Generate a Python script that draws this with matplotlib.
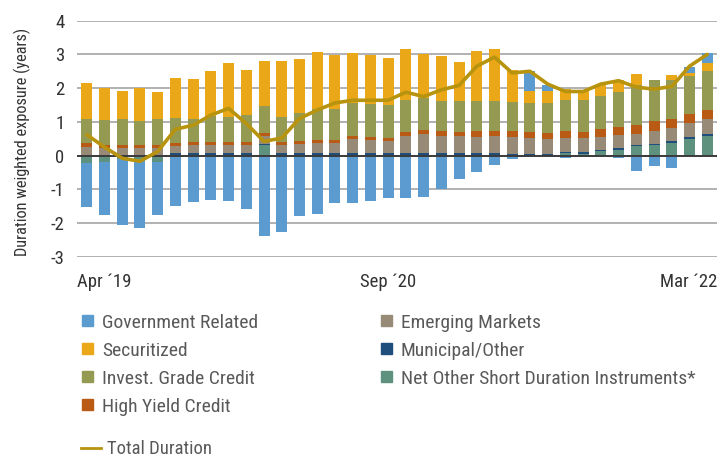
import matplotlib
matplotlib.use("Agg")
import matplotlib.pyplot as plt
from matplotlib import font_manager
from matplotlib.patches import Rectangle
from matplotlib.lines import Line2D
import matplotlib.transforms as mtransforms
import numpy as np

names = {f.name for f in font_manager.fontManager.ttflist}
FONT = "Liberation Sans"
for cand in ["Roboto Condensed", "Barlow Semi Condensed", "Asap Condensed", "Archivo Narrow",
             "Liberation Sans Narrow"]:
    if cand in names:
        FONT = cand
        break
plt.rcParams["font.family"] = [FONT, "DejaVu Sans"]

months = list(range(36))  # Apr '19 .. Mar '22
tick_idx = [0, 17, 35]
tick_labels = ["Apr \u00b419", "Sep \u00b420", "Mar \u00b422"]

gov = [-1.30, -1.56, -1.96, -2.04, -1.56, -1.50, -1.38, -1.31, -1.35, -1.60, -2.39, -2.27,
       -1.79, -1.73, -1.41, -1.41, -1.35, -1.26, -1.27, -1.23, -1.00, -0.71, -0.48, -0.27,
       -0.10, 0.59, 0.16, -0.07, -0.04, 0.00, -0.07, -0.46, -0.31, -0.37, 0.18, 0.27]
sec = [1.07, 0.93, 0.83, 0.96, 0.82, 1.17, 1.19, 1.34, 1.60, 1.35, 1.35, 1.66,
       1.60, 1.69, 1.58, 1.49, 1.46, 1.41, 1.50, 1.30, 1.32, 1.16, 1.47, 1.55,
       0.94, 0.36, 0.36, 0.31, 0.27, 0.30, 0.36, 0.35, 0.02, 0.17, 0.11, 0.24]
ig = [0.73, 0.74, 0.77, 0.71, 0.75, 0.74, 0.69, 0.77, 0.74, 0.79, 0.79, 0.75,
      0.83, 0.92, 0.92, 0.98, 0.98, 0.97, 0.94, 0.95, 0.89, 0.92, 0.89, 0.89,
      0.87, 0.87, 0.89, 0.92, 0.95, 0.99, 1.04, 1.16, 1.20, 1.14, 1.11, 1.16]
hy = [0.10, 0.10, 0.10, 0.10, 0.10, 0.10, 0.09, 0.08, 0.08, 0.08, 0.08, 0.08,
      0.10, 0.10, 0.10, 0.09, 0.09, 0.09, 0.12, 0.13, 0.14, 0.11, 0.17, 0.16,
      0.18, 0.16, 0.17, 0.20, 0.17, 0.25, 0.24, 0.28, 0.30, 0.27, 0.27, 0.27]
em = [0.24, 0.20, 0.20, 0.20, 0.20, 0.21, 0.24, 0.25, 0.25, 0.25, 0.24, 0.25,
      0.27, 0.30, 0.30, 0.42, 0.39, 0.36, 0.52, 0.57, 0.52, 0.52, 0.49, 0.50,
      0.50, 0.49, 0.46, 0.41, 0.43, 0.37, 0.40, 0.32, 0.38, 0.39, 0.42, 0.46]
muni = [0.02, 0.02, 0.02, 0.02, 0.02, 0.07, 0.07, 0.07, 0.07, 0.07, 0.05, 0.07,
        0.07, 0.07, 0.07, 0.07, 0.07, 0.07, 0.07, 0.07, 0.07, 0.07, 0.07, 0.07,
        0.05, 0.04, 0.04, 0.04, 0.04, 0.04, 0.04, 0.04, 0.04, 0.05, 0.05, 0.05]
other = [-0.22, -0.20, -0.10, -0.10, -0.20, 0.00, 0.00, 0.00, 0.00, 0.00, 0.30, 0.00,
         0.00, 0.00, 0.00, 0.00, 0.00, 0.00, 0.00, 0.00, 0.00, 0.00, 0.00, 0.00,
         0.00, 0.00, 0.00, 0.08, 0.06, 0.13, 0.17, 0.28, 0.31, 0.38, 0.50, 0.58]
total = [0.62, 0.25, -0.08, -0.17, 0.12, 0.78, 0.90, 1.20, 1.40, 0.95, 0.42, 0.52,
         1.10, 1.35, 1.56, 1.64, 1.64, 1.64, 1.88, 1.75, 1.95, 2.08, 2.65, 2.92,
         2.45, 2.50, 2.12, 1.90, 1.90, 2.12, 2.22, 2.03, 1.97, 2.05, 2.65, 3.00]

colors = {
    "Government Related": "#5B9BD0",
    "Securitized": "#EAA819",
    "Invest. Grade Credit": "#959A52",
    "High Yield Credit": "#B95B14",
    "Emerging Markets": "#978A76",
    "Municipal/Other": "#1F4E7C",
    "Net Other Short Duration Instruments*": "#5F917F",
}
data = {
    "Government Related": gov, "Securitized": sec, "Invest. Grade Credit": ig,
    "High Yield Credit": hy, "Emerging Markets": em, "Municipal/Other": muni,
    "Net Other Short Duration Instruments*": other,
}
stack_order = ["Net Other Short Duration Instruments*", "Municipal/Other", "Emerging Markets",
               "High Yield Credit", "Invest. Grade Credit", "Securitized", "Government Related"]

W, H = 726, 457
fig = plt.figure(figsize=(W / 100, H / 100), dpi=100)
ax = fig.add_axes([77 / W, 1 - 256.7 / H, (717 - 77) / W, (256.7 - 20.7) / H])

x = np.array(months)
pos_b = np.zeros(len(x))
neg_b = np.zeros(len(x))
for name in stack_order:
    v = np.array(data[name], dtype=float)
    bottoms = np.where(v >= 0, pos_b, neg_b)
    ax.bar(x, v, bottom=bottoms, width=0.62, color=colors[name], zorder=2, linewidth=0)
    pos_b += np.where(v >= 0, v, 0)
    neg_b += np.where(v < 0, v, 0)

ax.plot(x, total, color="#B8930E", lw=2.6, zorder=4, solid_capstyle="round", solid_joinstyle="round")
ax.axhline(0, color="#3a3a3a", lw=1.4, zorder=3)

ax.set_ylim(-3, 4)
ax.set_xlim(-0.55, 35.55)
ax.set_yticks(range(-3, 5))
ax.set_yticklabels([str(v) for v in range(-3, 5)])
for yv in range(-3, 5):
    if yv != 0:
        ax.axhline(yv, color="#ABABAB", lw=1.3, zorder=0)
for s in ax.spines.values():
    s.set_visible(False)
ax.tick_params(axis="both", length=0, colors="#333333", labelsize=13.5)
ax.tick_params(axis="y", pad=9)
ax.tick_params(axis="x", pad=12)
ax.set_xticks(tick_idx)
ax.set_xticklabels(tick_labels)
lbls = ax.get_xticklabels()
lbls[0].set_ha("left")
lbls[0].set_transform(lbls[0].get_transform() + mtransforms.ScaledTranslation(-0.10, 0, fig.dpi_scale_trans))
lbls[2].set_ha("right")
lbls[2].set_transform(lbls[2].get_transform() + mtransforms.ScaledTranslation(0.10, 0, fig.dpi_scale_trans))

fig.text(22 / W, 1 - 142 / H, "Duration weighted exposure (years)", rotation=90,
         ha="center", va="center", fontsize=11.8, color="#333333")

# legend (manual)
legend_text_color = "#595959"
col_x = [82, 381]
row_y = [320, 348, 376, 404]
entries = [(0, 0, "Government Related"), (0, 1, "Securitized"), (0, 2, "Invest. Grade Credit"),
           (0, 3, "High Yield Credit"), (1, 0, "Emerging Markets"), (1, 1, "Municipal/Other"),
           (1, 2, "Net Other Short Duration Instruments*")]
for c, r, name in entries:
    sx, sy = col_x[c], row_y[r]
    fig.add_artist(Rectangle((sx / W, 1 - (sy + 5.5) / H), 11 / W, 11 / H,
                             transform=fig.transFigure, color=colors[name]))
    fig.text((sx + 20) / W, 1 - (sy + 1) / H, name, ha="left", va="center_baseline",
             fontsize=14, color=legend_text_color)

fig.add_artist(Line2D([81 / W, 101 / W], [1 - 448 / H, 1 - 448 / H], transform=fig.transFigure,
                      color="#B8930E", lw=2))
fig.text(107 / W, 1 - 447 / H, "Total Duration", ha="left", va="center_baseline",
         fontsize=13.5, color=legend_text_color)

fig.savefig("out.png", dpi=100)
